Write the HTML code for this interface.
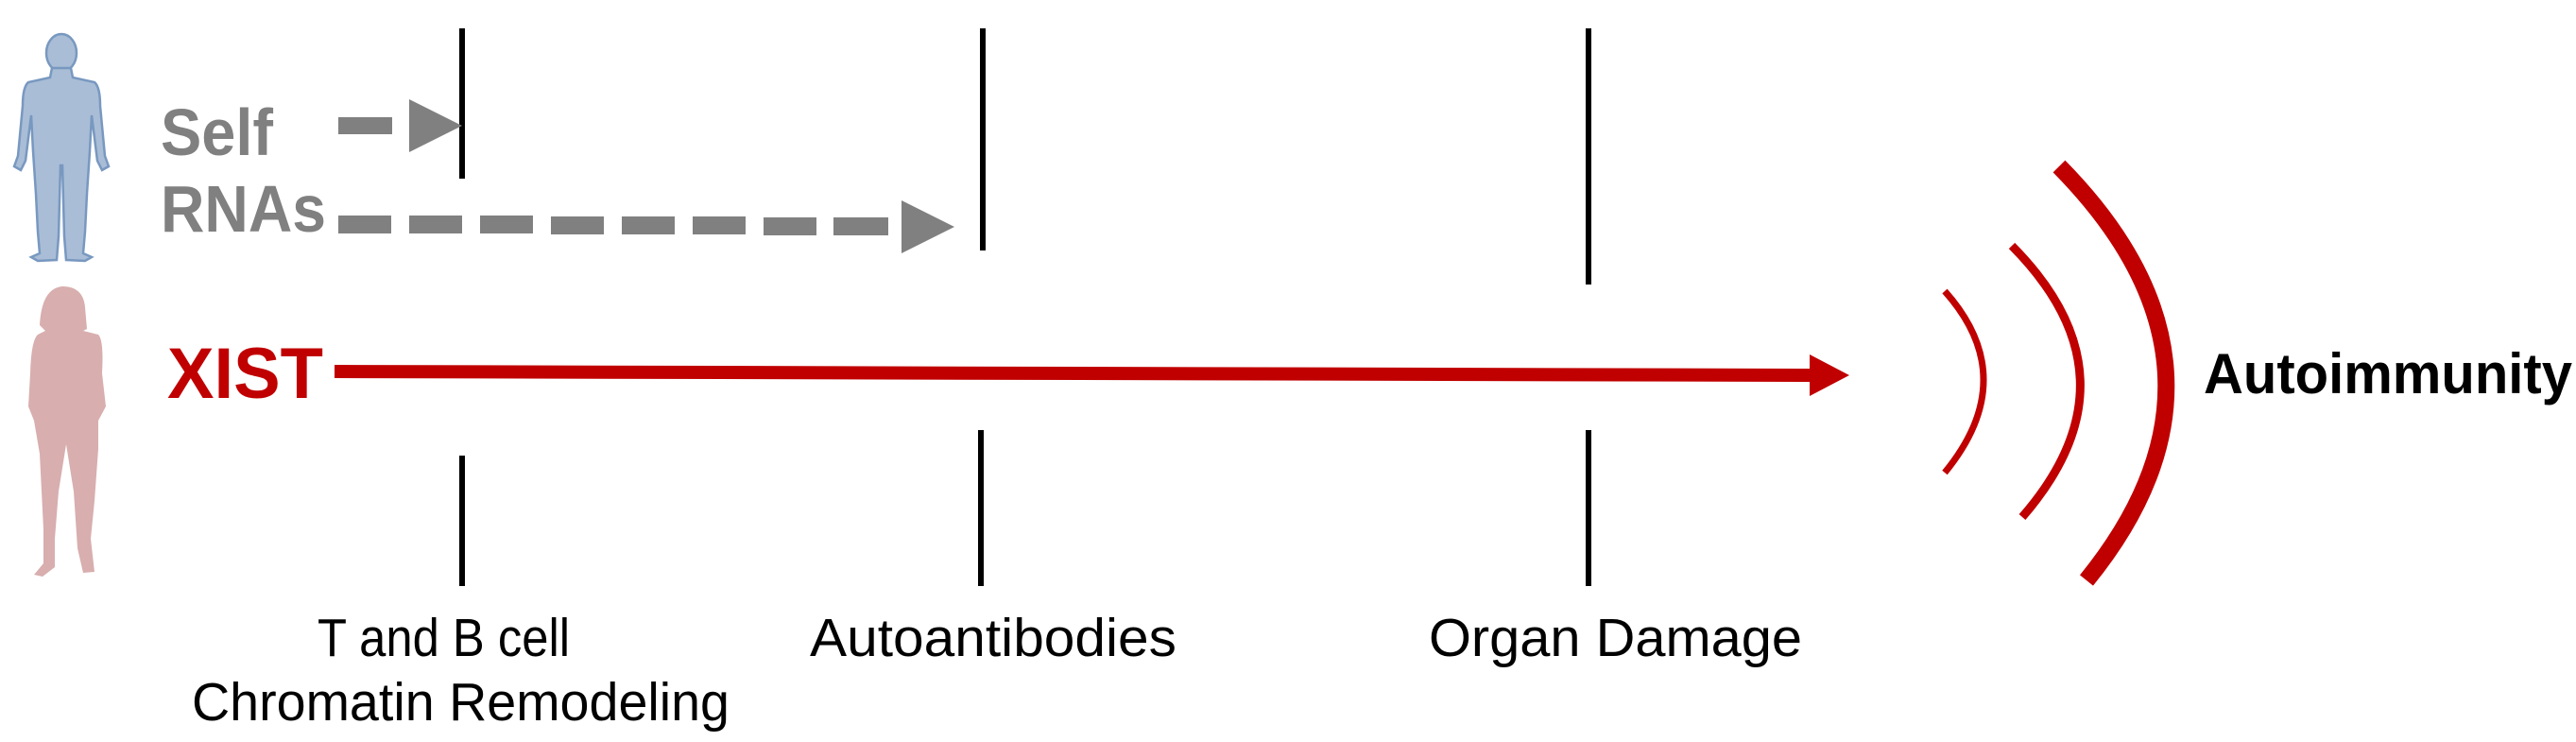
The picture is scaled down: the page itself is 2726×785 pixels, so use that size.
<!DOCTYPE html>
<html><head><meta charset="utf-8"><style>html,body{margin:0;padding:0;background:#fff}svg{display:block}</style></head>
<body>
<svg width="2726" height="785" viewBox="0 0 2726 785" xmlns="http://www.w3.org/2000/svg" font-family="'Liberation Sans', Arial, sans-serif">
<!-- man -->
<g fill="#a9bdd6" stroke="#7898c0" stroke-width="2.5">
<ellipse cx="65" cy="56" rx="16" ry="20"/>
<path d="M55,72 L75,72 L77,82 L100,87 Q106,92 106,112 L111,165 L115,176 L108,180 L103,170 L97,122 L95,160 L92,205 L90,245 L88,268 L97,272 L90,276 L70,275 L68,250 L66,175 L64,175 L62,250 L60,275 L40,276 L33,272 L42,268 L40,245 L38,205 L35,160 L33,122 L27,170 L22,180 L15,176 L19,165 L24,112 Q24,92 30,87 L53,82 Z"/>
</g>
<!-- woman -->
<path fill="#d8aeae" d="M66,303 Q88,303 90,325 L92,348 L88,350 L104,354 Q110,360 108,395 L112,430 L104,445 L104,475 L100,530 L96,570 L100,605 L88,606 L82,580 L78,520 L70,470 L62,520 L58,570 L58,600 L45,610 L36,608 L46,596 L46,560 L42,480 L36,445 L30,430 L32,395 Q33,360 40,354 L48,350 L42,344 Q44,305 66,303 Z"/>
<!-- vertical lines -->
<g stroke="#000" stroke-width="6">
<line x1="489" y1="30" x2="489" y2="189"/>
<line x1="1040" y1="30" x2="1040" y2="265"/>
<line x1="1681" y1="30" x2="1681" y2="301"/>
<line x1="489" y1="482" x2="489" y2="620"/>
<line x1="1038" y1="455" x2="1038" y2="620"/>
<line x1="1681" y1="455" x2="1681" y2="620"/>
</g>
<!-- texts -->
<g font-weight="bold" fill="#808080" font-size="70">
<text x="170" y="164" textLength="119" lengthAdjust="spacingAndGlyphs">Self</text>
<text x="170" y="245" textLength="175" lengthAdjust="spacingAndGlyphs">RNAs</text>
</g>
<text x="177" y="421" font-weight="bold" fill="#c00000" font-size="76" textLength="165" lengthAdjust="spacingAndGlyphs">XIST</text>
<!-- dashed arrows -->
<g fill="#808080">
<rect x="358" y="124" width="57" height="18"/>
<polygon points="433,105 489,133 433,161"/>
<rect x="358" y="228" width="56" height="19"/>
<rect x="433" y="228" width="56" height="19"/>
<rect x="508" y="228" width="56" height="19"/>
<rect x="583" y="229" width="56" height="19"/>
<rect x="658" y="229" width="56" height="19"/>
<rect x="733" y="229" width="56" height="19"/>
<rect x="808" y="230" width="56" height="19"/>
<rect x="882" y="230" width="58" height="19"/>
<polygon points="954,212 1010,240 954,268"/>
</g>
<!-- red arrow -->
<line x1="354" y1="393" x2="1918" y2="397" stroke="#c00000" stroke-width="14"/>
<polygon points="1915,375 1957,397 1915,419" fill="#c00000"/>
<!-- arcs -->
<g fill="none" stroke="#c00000">
<path d="M2058,308 Q2140,400 2058,500" stroke-width="7"/>
<path d="M2129,260 Q2268,400 2140,547" stroke-width="9"/>
<path d="M2179,176 Q2390,390 2208,614" stroke-width="18"/>
</g>
<text x="2332" y="416" font-weight="bold" font-size="60" fill="#000" textLength="390" lengthAdjust="spacingAndGlyphs">Autoimmunity</text>
<g font-size="57" fill="#000">
<text x="336" y="694" textLength="267" lengthAdjust="spacingAndGlyphs">T and B cell</text>
<text x="203" y="762" textLength="569" lengthAdjust="spacingAndGlyphs">Chromatin Remodeling</text>
<text x="857" y="694" textLength="388" lengthAdjust="spacingAndGlyphs">Autoantibodies</text>
<text x="1512" y="694" textLength="395" lengthAdjust="spacingAndGlyphs">Organ Damage</text>
</g>
</svg>
</body></html>
